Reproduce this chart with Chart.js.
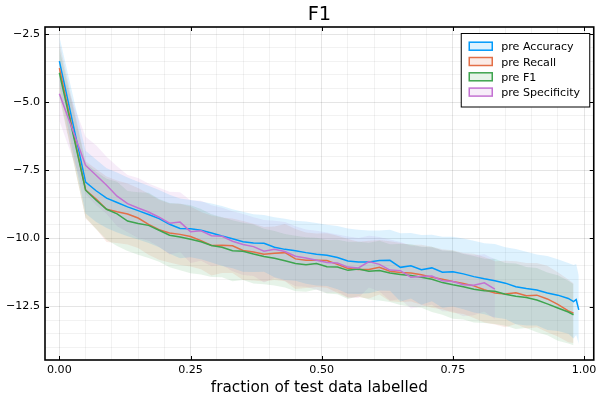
<!DOCTYPE html>
<html>
<head>
<meta charset="utf-8">
<script src="https://cdn.jsdelivr.net/npm/chart.js@4.4.1/dist/chart.umd.min.js"></script>
<style>
    html, body { margin: 0; padding: 0; background: #fff; }
</style>
</head>
<body>
<canvas id="f1Chart" width="600" height="400"></canvas>
<script>
// fraction of test data labelled
const xs = [0, 0.05, 0.07, 0.09, 0.11, 0.13, 0.15, 0.17, 0.19, 0.21,
    0.23, 0.25, 0.27, 0.29, 0.31, 0.33, 0.35, 0.37, 0.39, 0.41,
    0.43, 0.45, 0.47, 0.49, 0.51, 0.53, 0.55, 0.57, 0.59, 0.61,
    0.63, 0.65, 0.67, 0.69, 0.71, 0.73, 0.75, 0.77, 0.79, 0.81,
    0.83, 0.85, 0.87, 0.89, 0.91, 0.93, 0.95, 0.97, 0.98, 0.985, 0.99];

const accuracyMean = [-3.49, -7.93, -8.25, -8.52, -8.68, -8.84, -8.98, -9.12, -9.27, -9.48,
    -9.63, -9.64, -9.70, -9.80, -9.91, -10.01, -10.12, -10.17, -10.18, -10.32,
    -10.40, -10.45, -10.52, -10.58, -10.62, -10.70, -10.83, -10.86, -10.86, -10.81,
    -10.80, -11.06, -11.00, -11.15, -11.08, -11.24, -11.22, -11.30, -11.40, -11.48,
    -11.55, -11.64, -11.77, -11.84, -11.89, -12.00, -12.08, -12.20, -12.32, -12.24, -12.62];
const accuracySd = [0.90, 1.15, 1.15, 1.10, 1.10, 1.08, 1.06, 1.05, 1.05, 1.08,
    1.10, 1.05, 1.06, 1.08, 1.10, 1.08, 1.10, 1.06, 1.04, 1.10,
    1.12, 1.10, 1.14, 1.15, 1.12, 1.16, 1.20, 1.18, 1.15, 1.10,
    1.12, 1.25, 1.20, 1.28, 1.22, 1.30, 1.28, 1.30, 1.32, 1.30,
    1.35, 1.32, 1.38, 1.35, 1.30, 1.36, 1.32, 1.30, 1.35, 1.30, 1.25];

const recallMean = [-3.75, -8.22, -8.55, -8.93, -9.02, -9.10, -9.25, -9.48, -9.68, -9.80,
    -9.85, -9.93, -10.08, -10.26, -10.25, -10.27, -10.44, -10.50, -10.58, -10.54,
    -10.52, -10.75, -10.80, -10.80, -10.81, -10.95, -11.10, -11.14, -11.14, -11.06,
    -11.20, -11.25, -11.27, -11.33, -11.42, -11.50, -11.58, -11.65, -11.74, -11.88,
    -12.00, -12.04, -11.99, -12.10, -12.08, -12.22, -12.42, -12.66, -12.74];
const recallSd = [0.95, 1.05, 1.10, 1.20, 1.15, 1.12, 1.10, 1.12, 1.10, 1.08,
    1.12, 1.10, 1.05, 1.10, 1.02, 1.00, 1.08, 1.04, 1.00, 0.98,
    1.05, 1.10, 1.02, 0.98, 1.00, 1.05, 1.08, 1.02, 1.06, 1.00,
    1.10, 1.08, 1.04, 1.10, 1.12, 1.10, 1.15, 1.12, 1.18, 1.20,
    1.16, 1.22, 1.15, 1.20, 1.18, 1.22, 1.18, 1.15, 1.10];

const f1Mean = [-3.92, -8.23, -8.60, -8.93, -9.10, -9.36, -9.45, -9.52, -9.70, -9.88,
    -9.95, -10.03, -10.12, -10.26, -10.32, -10.45, -10.47, -10.57, -10.66, -10.73,
    -10.82, -10.92, -10.96, -10.92, -11.04, -11.05, -11.17, -11.12, -11.20, -11.18,
    -11.27, -11.32, -11.36, -11.42, -11.50, -11.62, -11.70, -11.77, -11.86, -11.92,
    -11.94, -12.05, -12.12, -12.17, -12.26, -12.40, -12.55, -12.70, -12.80];
const f1Sd = [0.90, 1.00, 1.05, 1.12, 1.18, 1.10, 1.15, 1.20, 1.15, 1.18,
    1.22, 1.25, 1.20, 1.15, 1.10, 1.12, 1.05, 1.08, 1.02, 1.00,
    0.98, 1.02, 1.00, 0.95, 0.98, 1.00, 1.05, 1.00, 1.04, 1.10,
    1.06, 1.12, 1.15, 1.12, 1.20, 1.18, 1.25, 1.20, 1.22, 1.18,
    1.20, 1.15, 1.20, 1.12, 1.18, 1.15, 1.20, 1.15, 1.12];

const specificityMean = [-4.69, -7.32, -7.68, -8.05, -8.45, -8.72, -8.88, -9.03, -9.22, -9.44,
    -9.40, -9.75, -9.72, -9.90, -9.92, -10.10, -10.22, -10.30, -10.47, -10.40,
    -10.48, -10.65, -10.72, -10.80, -10.88, -10.90, -11.05, -11.08, -10.85, -10.95,
    -11.16, -11.18, -11.42, -11.40, -11.38, -11.55, -11.58, -11.70, -11.72, -11.63,
    -11.86];
const specificitySd = [1.00, 1.05, 1.10, 1.05, 1.10, 1.05, 1.10, 1.05, 1.08, 1.15,
    1.10, 1.15, 1.10, 1.12, 1.05, 1.10, 1.12, 1.08, 1.15, 1.05,
    1.08, 1.10, 1.05, 1.08, 1.10, 1.05, 1.12, 1.10, 0.95, 1.00,
    1.12, 1.05, 1.15, 1.10, 1.05, 1.12, 1.10, 1.15, 1.10, 1.05,
    1.10];

const labels = ["pre Accuracy", "pre Recall", "pre F1", "pre Specificity"];
const xTicks = [0, 0.25, 0.5, 0.75, 1.0];
const yTicks = [-2.5, -5.0, -7.5, -10.0, -12.5];

const colors = ["rgb(0,154,250)", "rgb(227,111,71)", "rgb(62,164,78)", "rgb(195,113,210)"];
const fills = ["rgba(0,154,250,0.13)", "rgba(227,111,71,0.13)", "rgba(62,164,78,0.13)", "rgba(195,113,210,0.13)"];

const FONT = "'DejaVu Sans', sans-serif";
Chart.defaults.font.family = FONT;
Chart.defaults.color = "#000";

const series = [
    { mean: accuracyMean, sd: accuracySd },
    { mean: recallMean, sd: recallSd },
    { mean: f1Mean, sd: f1Sd },
    { mean: specificityMean, sd: specificitySd },
];

const datasets = [];
series.forEach((s, k) => {
    const pts = f => s.mean.map((m, i) => ({ x: xs[i], y: f(m, s.sd[i]) }));
    datasets.push({
        label: labels[k] + " lower",
        data: pts((m, d) => m - d),
        borderColor: "rgba(0,0,0,0)",
        borderWidth: 1,
        pointRadius: 0,
        fill: false,
        order: 10,
    });
    datasets.push({
        label: labels[k] + " upper",
        data: pts((m, d) => m + d),
        borderColor: "rgba(0,0,0,0)",
        borderWidth: 1,
        backgroundColor: fills[k],
        pointRadius: 0,
        fill: "-1",
        order: 10,
    });
    datasets.push({
        label: labels[k],
        data: pts(m => m),
        borderColor: colors[k],
        borderWidth: 1.5,
        pointRadius: 0,
        fill: false,
        order: 4 - k,
    });
});

const near = (v, list) => list.some(t => Math.abs(v - t) < 1e-6);
const minus = s => s.replace("-", "\u2212");

const frame = {
    id: "frame",
    afterDatasetsDraw(chart) {
        const { ctx, chartArea: a, scales } = chart;
        ctx.save();
        ctx.strokeStyle = "#000";
        ctx.lineWidth = 1;
        ctx.beginPath();
        xTicks.forEach(t => {
            const px = Math.round(scales.x.getPixelForValue(t)) + 0.5;
            ctx.moveTo(px, a.bottom); ctx.lineTo(px, a.bottom - 4);
            ctx.moveTo(px, a.top); ctx.lineTo(px, a.top + 4);
        });
        yTicks.forEach(t => {
            const py = Math.round(scales.y.getPixelForValue(t)) + 0.5;
            ctx.moveTo(a.left, py); ctx.lineTo(a.left + 4, py);
            ctx.moveTo(a.right, py); ctx.lineTo(a.right - 4, py);
        });
        ctx.stroke();
        ctx.lineWidth = 1.6;
        ctx.strokeRect(a.left, a.top, a.right - a.left, a.bottom - a.top);
        ctx.restore();
    },
    afterDraw(chart) {
        const { ctx, chartArea: a } = chart;
        ctx.save();
        // title
        ctx.fillStyle = "#000";
        ctx.font = "19.4px " + FONT;
        ctx.textAlign = "center";
        ctx.textBaseline = "alphabetic";
        ctx.fillText("F1", (a.left + a.right) / 2, 19.5);

        // legend
        const bx = a.right - 132.5, by = a.top + 6.5, bw = 128.5, bh = 73.5;
        ctx.fillStyle = "#fff";
        ctx.fillRect(bx, by, bw, bh);
        ctx.strokeStyle = "#000";
        ctx.lineWidth = 1;
        ctx.strokeRect(bx, by, bw, bh);
        ctx.font = "11.1px " + FONT;
        ctx.textAlign = "left";
        labels.forEach((lab, k) => {
            const cy = by + 12.7 + k * 15.3;
            ctx.fillStyle = "#fff";
            ctx.fillRect(bx + 8, cy - 4, 23, 8);
            ctx.fillStyle = fills[k];
            ctx.fillRect(bx + 8, cy - 4, 23, 8);
            ctx.strokeStyle = colors[k];
            ctx.lineWidth = 1.5;
            ctx.strokeRect(bx + 8, cy - 4, 23, 8);
            ctx.fillStyle = "#000";
            ctx.fillText(lab, bx + 40, cy + 4);
        });
        ctx.restore();
    }
};

new Chart(document.getElementById("f1Chart").getContext("2d"), {
    type: "line",
    data: { datasets },
    options: {
        responsive: false,
        animation: false,
        layout: { padding: { left: 0, right: 6, top: 27, bottom: 0 } },
        plugins: {
            legend: { display: false },
            tooltip: { enabled: false },
            filler: { drawTime: "beforeDatasetsDraw" },
        },
        scales: {
            x: {
                type: "linear",
                min: -0.0274,
                max: 1.0185,
                afterFit: s => { s.height = 40; },
                border: { display: false },
                grid: {
                    drawTicks: false,
                    lineWidth: 1,
                    color: c => near(c.tick.value, xTicks) ? "rgba(0,0,0,0.1)" : "rgba(0,0,0,0.05)",
                },
                ticks: {
                    stepSize: 0.05,
                    includeBounds: false,
                    autoSkip: false,
                    maxRotation: 0,
                    padding: 3.5,
                    font: { size: 11.1 },
                    callback: v => near(v, xTicks) ? Math.abs(v).toFixed(2) : "",
                },
                title: {
                    display: true,
                    text: "fraction of test data labelled",
                    font: { size: 15.3 },
                    padding: { top: 0, bottom: 3 },
                },
            },
            y: {
                type: "linear",
                min: -14.46,
                max: -2.24,
                afterFit: s => { s.width = 45; },
                border: { display: false },
                grid: {
                    drawTicks: false,
                    lineWidth: 1,
                    color: c => near(c.tick.value, yTicks) ? "rgba(0,0,0,0.1)" : "rgba(0,0,0,0.05)",
                },
                ticks: {
                    stepSize: 0.5,
                    includeBounds: false,
                    autoSkip: false,
                    padding: 5,
                    font: { size: 11.1 },
                    callback: v => near(v, yTicks) ? minus(v.toFixed(1)) : "",
                },
            },
        },
    },
    plugins: [frame],
});
</script>
</body>
</html>
